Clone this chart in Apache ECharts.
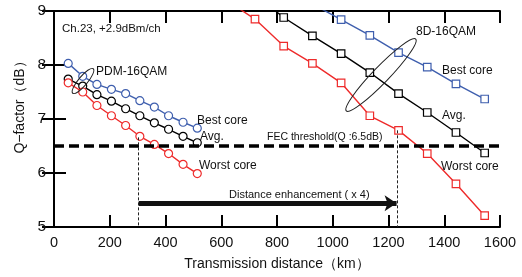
<!DOCTYPE html>
<html>
<head>
<meta charset="utf-8">
<script src="https://cdn.jsdelivr.net/npm/echarts@6/dist/echarts.min.js"></script>
<style>
  html, body { margin: 0; padding: 0; background: #fff; }
  #main { width: 522px; height: 277px; }
</style>
</head>
<body>
<div id="main"></div>
<script>
var myChart = echarts.init(document.getElementById('main'));

// PDM-16QAM (circles)
var pdmDist = [51, 103, 154, 206, 257, 308, 360, 411, 463, 514];
var pdmBest = [8.03, 7.79, 7.64, 7.55, 7.47, 7.34, 7.22, 7.06, 6.94, 6.83];
var pdmAvg = [7.74, 7.61, 7.45, 7.33, 7.19, 7.06, 6.93, 6.81, 6.68, 6.56];
var pdmWorst = [7.67, 7.50, 7.25, 7.06, 6.88, 6.68, 6.53, 6.36, 6.16, 5.99];

// 8D-16QAM (squares)
var d8Dist = [618, 721, 824, 927, 1030, 1133, 1236, 1339, 1442, 1545];
var d8Best = [null, null, null, 9.13, 8.84, 8.55, 8.23, 7.96, 7.65, 7.37];
var d8Avg = [null, 9.3, 8.88, 8.54, 8.21, 7.86, 7.47, 7.12, 6.75, 6.37];
var d8Worst = [9.2, 8.85, 8.35, 8.03, 7.67, 7.06, 6.79, 6.36, 5.80, 5.21];

var xTicks = [0, 200, 400, 600, 800, 1000, 1200, 1400, 1600];
var yTicks = [5, 6, 7, 8, 9];

var fecQ = 6.5;
var reachPdm = [304, 6.66];
var reach8d = [1232, 6.79];
var arrowY = 5.44;
var arrowEnd = 1229;

var BLUE = '#3f5fae';
var RED = '#ee2b2b';
var BLACK = '#000';

function pairs(xs, ys) {
    var out = [];
    for (var i = 0; i < xs.length; i++) {
        if (ys[i] != null) out.push([xs[i], ys[i]]);
    }
    return out;
}

function curve(name, xs, ys, color, symbol) {
    return {
        name: name,
        type: 'line',
        data: pairs(xs, ys),
        symbol: symbol,
        symbolSize: symbol === 'circle' ? 8 : 7.5,
        showSymbol: true,
        clip: true,
        lineStyle: { color: color, width: 1.4 },
        itemStyle: { color: '#fff', borderColor: color, borderWidth: 1.2 },
        z: 3
    };
}

var font = 'Liberation Sans, Arial, sans-serif';

function label(text, x, y, size) {
    return {
        type: 'text',
        x: x, y: y,
        style: {
            text: text,
            fill: '#111',
            font: (size || 12) + 'px ' + font,
            textVerticalAlign: 'middle'
        },
        z: 10
    };
}

var option = {
    animation: false,
    grid: { left: 54, right: 22, top: 11, bottom: 50 },
    xAxis: [{
        type: 'value',
        min: 0, max: 1600, interval: 200,
        name: 'Transmission distance（km）',
        nameLocation: 'middle',
        nameGap: 30,
        nameTextStyle: { fontSize: 14, color: '#111', fontFamily: font },
        axisLine: { lineStyle: { color: BLACK, width: 2 } },
        axisTick: { inside: true, length: 12, lineStyle: { color: BLACK, width: 2 } },
        axisLabel: { fontSize: 14.5, color: '#111', fontFamily: font, margin: 8,
            formatter: function (v) { return xTicks.indexOf(v) >= 0 ? String(v) : ''; } },
        splitLine: { show: false }
    }, {
        type: 'value', position: 'top',
        min: 0, max: 1600, interval: 200,
        axisLine: { lineStyle: { color: BLACK, width: 2 } },
        axisTick: { inside: true, length: 12, lineStyle: { color: BLACK, width: 2 } },
        axisLabel: { show: false },
        splitLine: { show: false }
    }],
    yAxis: [{
        type: 'value',
        min: 5, max: 9, interval: 1,
        axisLine: { lineStyle: { color: BLACK, width: 2 } },
        axisTick: { inside: true, length: 12, lineStyle: { color: BLACK, width: 2 } },
        axisLabel: { fontSize: 15.5, color: '#111', fontFamily: font, margin: 8,
            formatter: function (v) { return yTicks.indexOf(v) >= 0 ? String(v) : ''; } },
        splitLine: { show: false }
    }, {
        type: 'value', position: 'right',
        min: 5, max: 9, interval: 1,
        axisLine: { lineStyle: { color: BLACK, width: 2 } },
        axisTick: { inside: true, length: 12, lineStyle: { color: BLACK, width: 2 } },
        axisLabel: { show: false },
        splitLine: { show: false }
    }],
    series: [
        curve('PDM Best', pdmDist, pdmBest, BLUE, 'circle'),
        curve('PDM Avg', pdmDist, pdmAvg, BLACK, 'circle'),
        curve('PDM Worst', pdmDist, pdmWorst, RED, 'circle'),
        curve('8D Best', d8Dist, d8Best, BLUE, 'rect'),
        curve('8D Avg', d8Dist, d8Avg, BLACK, 'rect'),
        curve('8D Worst', d8Dist, d8Worst, RED, 'rect'),
        {
            name: 'guides',
            type: 'line',
            data: [],
            markLine: {
                silent: true,
                symbol: ['none', 'none'],
                label: { show: false },
                data: [
                    [{ coord: [0, fecQ], lineStyle: { color: BLACK, width: 3.5, type: [10, 5] } },
                     { coord: [1600, fecQ] }],
                    [{ coord: [reachPdm[0], reachPdm[1]], lineStyle: { color: '#222', width: 1, type: [3, 2] } },
                     { coord: [reachPdm[0], 5] }],
                    [{ coord: [reach8d[0], reach8d[1]], lineStyle: { color: '#222', width: 1, type: [3, 2] } },
                     { coord: [reach8d[0], 5] }],
                    [{ coord: [reachPdm[0], arrowY], symbol: 'none',
                       lineStyle: { color: '#111', width: 5, type: 'solid' } },
                     { coord: [arrowEnd, arrowY], symbol: 'arrow', symbolSize: [12, 12] }]
                ]
            },
            z: 2
        }
    ],
    graphic: [
        label('Ch.23, +2.9dBm/ch', 62, 29, 11.5),
        label('PDM-16QAM', 96, 72),
        label('Best core', 197, 121),
        label('Avg.', 200, 137),
        label('Worst core', 199, 166),
        label('8D-16QAM', 416, 32),
        label('Best core', 442, 71),
        label('Avg.', 442, 116),
        label('Worst core', 441, 167),
        label('FEC threshold(Q :6.5dB)', 267, 137, 10.5),
        label('Distance enhancement ( x 4)', 229, 195, 11),
        {
            type: 'text',
            x: 20, y: 104,
            rotation: Math.PI / 2,
            style: {
                text: 'Q−factor（dB）',
                fill: '#111',
                font: '14px ' + font,
                textAlign: 'center',
                textVerticalAlign: 'middle'
            }
        },
        {
            type: 'ellipse',
            x: 381, y: 75,
            rotation: Math.PI * 46 / 180,
            shape: { cx: 0, cy: 0, rx: 50, ry: 8 },
            style: { fill: 'none', stroke: '#222', lineWidth: 1 },
            z: 9
        },
        {
            type: 'ellipse',
            x: 83, y: 81,
            rotation: Math.PI * 50 / 180,
            shape: { cx: 0, cy: 0, rx: 16, ry: 4.5 },
            style: { fill: 'none', stroke: '#222', lineWidth: 1 },
            z: 9
        }
    ]
};

myChart.setOption(option);
</script>
</body>
</html>
